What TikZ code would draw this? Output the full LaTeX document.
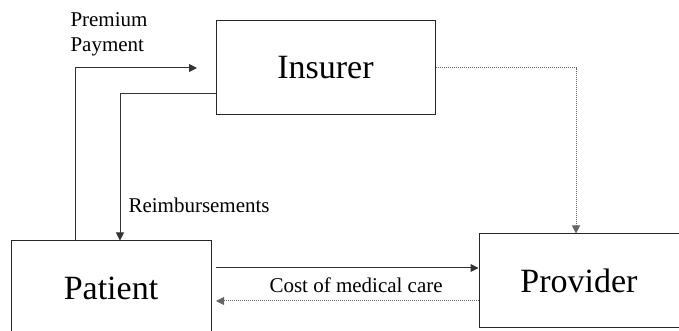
\documentclass[tikz,border=0pt]{standalone}
\usepackage{fontspec}
\setmainfont{Liberation Serif}
\usetikzlibrary{arrows.meta}
\begin{document}
\begin{tikzpicture}[x=0.75pt,y=-0.75pt,line width=0.75pt,
  party/.style={draw=black!85,inner sep=0pt,minimum width=150pt,minimum height=70.5pt,font=\fontsize{25.5}{30}\selectfont},
  flow/.style={draw=black!80,-{Triangle[length=6pt,width=6pt]}},
  back/.style={draw=black!60,dash pattern=on 0.75pt off 0.75pt,-{Triangle[length=6pt,width=6pt]}},
  lbl/.style={inner sep=0pt,font=\fontsize{15.75}{18.75}\selectfont}]
\useasboundingbox (0,0) rectangle (679,331);
% the three parties
\node[party,minimum width=164.25pt] (insurer) at (325.5,68) {Insurer};
\node[party] (patient) at (111,288) {Patient};
\node[party] (provider) at (579,281) {Provider};
% bend points
\coordinate (prem) at (75,68);
\coordinate (premtip) at (197,68);
\coordinate (reimb) at (120,94);
\coordinate (claim) at (576,68);
\coordinate (care) at (216,268);
\coordinate (cost) at (216,301);
% connectors
\draw[flow] (patient.north -| prem) -- (prem) -- (premtip);
\draw[flow] (insurer.west |- reimb) -- (reimb) -- (reimb |- patient.north);
\draw[back] (insurer.east) -- (claim) -- (claim |- provider.north);
\draw[flow] (care) -- (care -| provider.west);
\draw[back] (cost -| provider.west) -- (cost);
% labels
\node[lbl,anchor=base west,align=left] (premlbl) at (70,52) {Premium\\Payment};
\node[lbl,anchor=base west] (reimblbl) at (128,213) {Reimbursements};
\node[lbl,anchor=base west] (costlbl) at (269,293) {Cost of medical care};
\end{tikzpicture}
\end{document}
